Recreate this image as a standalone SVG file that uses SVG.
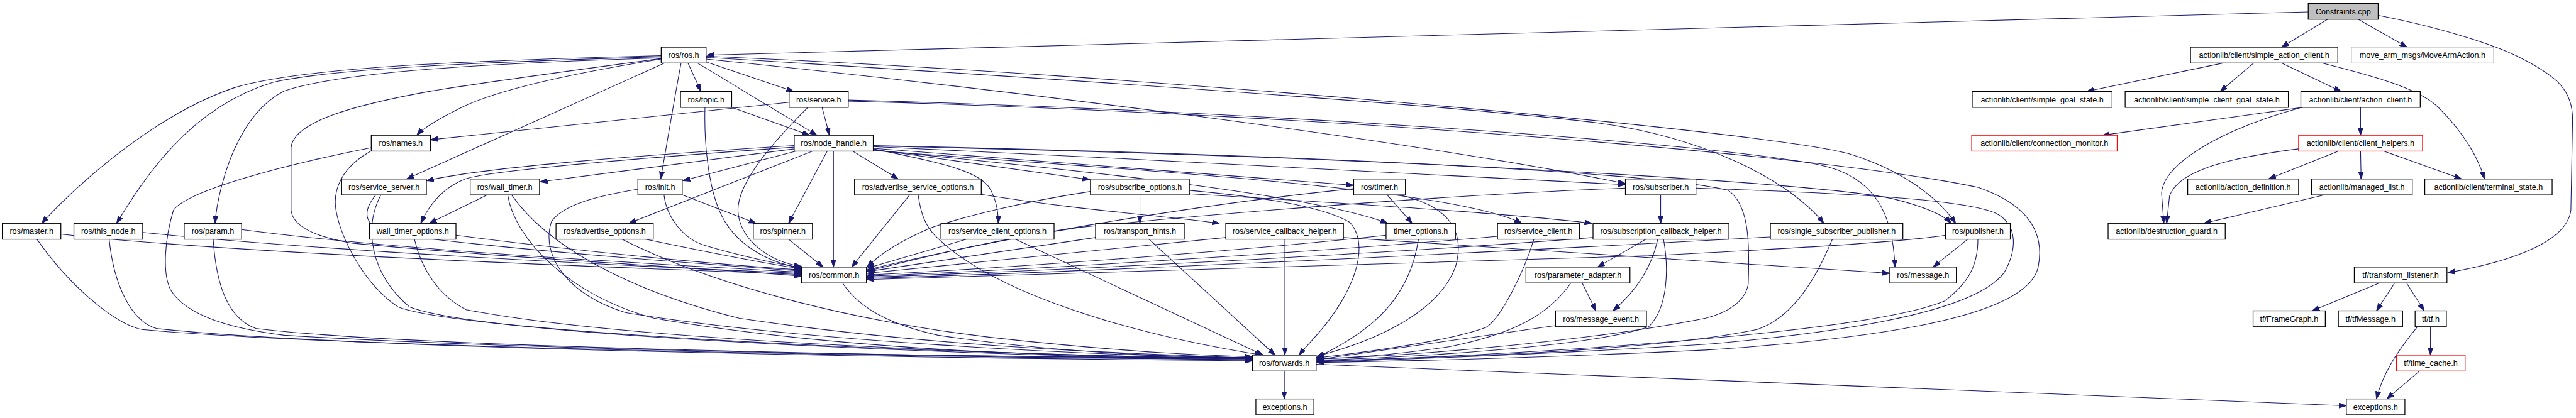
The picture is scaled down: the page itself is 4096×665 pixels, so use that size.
<svg xmlns="http://www.w3.org/2000/svg" width="4096" height="665" viewBox="0 0 4096 665">
<defs>
<style>
.n rect{fill:#fff;stroke:#000;stroke-width:1.4}
.n text{font-family:"Liberation Sans",Arial,sans-serif;font-size:14px;text-anchor:middle;fill:#000}
.n.red rect{stroke:#ff0000}
.n.grey rect{stroke:#bfbfbf}
.n.root rect{fill:#bfbfbf}
#edges path{fill:none;stroke:#191970;stroke-width:1.2;marker-end:url(#a)}
</style>
<marker id="a" viewBox="0 0 14 10" markerWidth="14" markerHeight="10" refX="13" refY="5" orient="auto" markerUnits="userSpaceOnUse">
<path d="M0,0.5 L13,5 L0,9.5 z" fill="#191970" stroke="#191970" stroke-width="1"/>
</marker>
</defs>
<rect width="4096" height="665" fill="#fff"/>
<g transform="scale(0.904)">
<g id="edges">
<path d="M4060,21 L1243,97"/>
<path d="M4094,34 L4013,83"/>
<path d="M4148,34 L4234,83"/>
<path d="M4183,27 C4300,50 4390,80 4430,100 C4500,135 4525,160 4525,210 L4522,370 C4515,425 4420,460 4305,480"/>
<path d="M3910,111 L3670,161"/>
<path d="M3964,111 L3905,161"/>
<path d="M4013,111 L4118,161"/>
<path d="M4084,111 C4200,140 4260,160 4290,190 C4335,235 4360,280 4370,315"/>
<path d="M4152,189 L4152,238"/>
<path d="M4050,189 L3698,238"/>
<path d="M4045,190 C3900,230 3805,290 3802,340 L3806,393"/>
<path d="M4113,266 L3990,315"/>
<path d="M4152,266 L4153,315"/>
<path d="M4193,266 L4330,315"/>
<path d="M4043,262 C3900,280 3830,305 3816,345 L3811,393"/>
<path d="M4089,343 L3876,393"/>
<path d="M4185,498 L4067,547"/>
<path d="M4212,498 L4180,547"/>
<path d="M4233,498 L4264,547"/>
<path d="M4275,575 L4275,625"/>
<path d="M4252,575 C4215,620 4190,660 4180,702"/>
<path d="M4257,652 L4198,702"/>
<path d="M2259,652 L2259,702"/>
<path d="M2315,641 C3000,670 3700,700 4127,714"/>
<path d="M1163,98 C800,107 520,120 410,155 C280,200 150,310 73,393"/>
<path d="M1163,100 C800,110 560,125 480,145 C330,190 250,320 205,393"/>
<path d="M1163,102 C800,113 590,130 500,160 C420,200 385,320 378,393"/>
<path d="M1163,104 C1000,130 870,160 810,190 C770,210 745,225 733,238"/>
<path d="M1163,103 C1000,125 850,145 760,160 C620,185 515,215 512,260 L512,370 C515,400 560,418 620,428 C900,455 1250,472 1410,486"/>
<path d="M1169,111 L715,315"/>
<path d="M1210,111 L1233,161"/>
<path d="M1242,109 L1396,161"/>
<path d="M1227,111 L1437,238"/>
<path d="M1198,111 C1185,180 1172,260 1162,315"/>
<path d="M1242,104 C1700,150 2450,240 2859,323"/>
<path d="M1242,101 C1800,135 2500,180 2800,215 C3000,240 3150,320 3208,393"/>
<path d="M1242,99 C2000,130 3100,230 3250,270 C3350,300 3410,350 3440,393"/>
<path d="M1397,256 C1100,275 850,295 750,318"/>
<path d="M1397,262 L950,320"/>
<path d="M1400,266 L1201,318"/>
<path d="M1397,259 C1100,280 860,300 818,315 C780,330 755,360 740,393"/>
<path d="M1429,266 L1106,393"/>
<path d="M1455,266 L1387,393"/>
<path d="M1466,266 L1466,470"/>
<path d="M1500,266 L1580,315"/>
<path d="M1536,262 C1650,285 1720,300 1740,330 C1752,350 1756,370 1756,393"/>
<path d="M1536,263 L1917,316"/>
<path d="M1536,261 L2381,326"/>
<path d="M1536,264 C1900,300 2300,340 2441,393"/>
<path d="M1536,265 C2000,300 2550,330 2677,393"/>
<path d="M1536,258 C2000,280 2600,310 2859,325"/>
<path d="M1536,257 C2400,275 3200,320 3330,350 C3390,365 3420,380 3432,393"/>
<path d="M1536,256 C2200,270 2900,300 3040,335 C3075,360 3078,420 3075,500 C3070,530 3040,550 3000,560 C2800,600 2500,625 2316,632"/>
<path d="M1287,189 L1424,238"/>
<path d="M1240,189 C1238,260 1248,330 1265,370 C1290,430 1350,462 1410,472"/>
<path d="M1388,180 L757,246"/>
<path d="M1446,189 L1459,238"/>
<path d="M1421,189 C1360,250 1298,320 1298,370 C1300,420 1350,460 1410,469"/>
<path d="M1492,176 C2200,195 3000,250 3200,290 C3300,310 3330,380 3333,470"/>
<path d="M1492,178 C2300,200 3200,270 3480,330 C3580,365 3595,420 3585,470 C3570,540 3400,590 3000,616 C2700,630 2450,636 2316,638"/>
<path d="M653,260 C500,290 330,335 305,370 C290,420 285,480 300,510 C330,560 420,580 500,590 C900,615 1700,630 2203,629"/>
<path d="M652,266 C600,295 585,335 591,370 C600,420 640,500 700,540 C800,580 1500,620 2203,631"/>
<path d="M661,343 C635,375 640,400 690,412 C900,440 1200,462 1410,477"/>
<path d="M670,343 C640,400 650,480 720,540 C850,590 1600,622 2203,634"/>
<path d="M857,343 L755,393"/>
<path d="M893,343 C905,420 1000,520 1150,560 C1500,620 1900,628 2203,632"/>
<path d="M900,343 C960,430 1100,510 1300,560 C1600,605 1900,620 2203,630"/>
<path d="M1200,343 L1330,393"/>
<path d="M1168,343 C1172,380 1200,420 1240,432 C1300,450 1370,465 1410,471"/>
<path d="M1122,333 C1050,345 990,360 970,390 C950,450 1000,520 1100,550 C1400,600 1900,625 2203,630"/>
<path d="M802,414 C1000,440 1250,465 1410,475"/>
<path d="M729,421 C740,470 770,520 820,545 C1100,600 1800,626 2203,631"/>
<path d="M1135,421 C1250,445 1350,465 1410,473"/>
<path d="M1094,421 C1250,500 1500,570 1800,600 C2000,620 2100,625 2203,628"/>
<path d="M1387,421 L1448,470"/>
<path d="M107,412 C400,445 1000,468 1410,483"/>
<path d="M251,409 C550,440 1050,466 1410,481"/>
<path d="M425,404 C700,440 1100,462 1410,479"/>
<path d="M65,421 C120,500 200,570 250,580 C600,612 1600,628 2203,633"/>
<path d="M192,421 C200,500 230,565 275,578 C600,614 1600,630 2203,635"/>
<path d="M375,421 C380,500 400,560 450,578 C700,610 1600,628 2203,631"/>
<path d="M1600,343 L1498,470"/>
<path d="M1615,343 C1620,380 1630,400 1645,415 C1750,520 2000,590 2220,625"/>
<path d="M1726,342 C1900,370 2050,380 2145,393"/>
<path d="M1700,421 L1525,472"/>
<path d="M1786,421 L2222,625"/>
<path d="M1918,337 C1800,355 1700,380 1640,400 C1580,425 1545,450 1525,470"/>
<path d="M2005,343 L2005,393"/>
<path d="M2092,335 C2200,345 2320,360 2374,391 C2400,420 2395,470 2360,530 C2330,580 2300,605 2285,625"/>
<path d="M2092,341 C2400,360 2650,375 2800,393"/>
<path d="M1927,418 L1525,478"/>
<path d="M2021,421 L2243,625"/>
<path d="M2156,418 L1525,481"/>
<path d="M2260,421 L2260,625"/>
<path d="M2363,418 C2700,440 3000,460 3324,481"/>
<path d="M2440,343 L2484,393"/>
<path d="M2381,332 C2100,360 1750,420 1525,475"/>
<path d="M2460,343 C2540,360 2580,400 2560,470 C2530,550 2420,600 2316,627"/>
<path d="M2438,414 C2200,440 1800,470 1525,484"/>
<path d="M2495,421 C2480,520 2420,580 2316,629"/>
<path d="M2634,416 C2300,445 1800,475 1525,486"/>
<path d="M2698,421 C2680,480 2640,560 2614,576 C2550,600 2400,620 2316,630"/>
<path d="M2802,418 C2400,450 1800,478 1525,488"/>
<path d="M2895,421 L2810,470"/>
<path d="M2916,421 C2905,470 2880,510 2837,547"/>
<path d="M2926,421 C2935,470 2935,540 2900,575 C2800,610 2500,628 2316,634"/>
<path d="M2921,343 L2921,393"/>
<path d="M2859,331 C2500,345 2100,380 1900,400 C1700,430 1600,460 1525,477"/>
<path d="M2983,331 C3250,340 3450,350 3510,375 C3550,395 3548,440 3525,480 C3480,540 3300,580 3000,606 C2700,625 2450,633 2316,637"/>
<path d="M2783,498 L2807,547"/>
<path d="M2763,498 C2720,560 2650,590 2550,610 C2450,625 2380,630 2316,631"/>
<path d="M2736,573 L2316,633"/>
<path d="M3114,417 C2700,440 2000,475 1525,490"/>
<path d="M3223,421 C3190,500 3150,560 3090,580 C2900,620 2500,630 2316,635"/>
<path d="M3422,414 C3330,428 3100,440 2900,450 C2400,465 1900,480 1525,492"/>
<path d="M3461,421 L3400,470"/>
<path d="M3479,421 C3479,470 3460,500 3420,530 C3300,580 2800,620 2316,636"/>
<path d="M1482,498 C1510,540 1560,570 1650,590 C1850,620 2050,628 2203,630"/>
</g>
<g id="n_constraints" class="n root"><rect x="4060" y="6" width="123" height="28"/><text x="4121.5" y="25">Constraints.cpp</text></g>
<g id="n_ros" class="n"><rect x="1163" y="83" width="79" height="28"/><text x="1202.5" y="102">ros/ros.h</text></g>
<g id="n_sac" class="n"><rect x="3853" y="83" width="259" height="28"/><text x="3982.5" y="102">actionlib/client/simple_action_client.h</text></g>
<g id="n_movearm" class="n grey"><rect x="4136" y="83" width="250" height="28"/><text x="4261" y="102">move_arm_msgs/MoveArmAction.h</text></g>
<g id="n_topic" class="n"><rect x="1197" y="161" width="90" height="28"/><text x="1242" y="180">ros/topic.h</text></g>
<g id="n_service" class="n"><rect x="1388" y="161" width="104" height="28"/><text x="1440" y="180">ros/service.h</text></g>
<g id="n_sgs" class="n"><rect x="3469" y="161" width="246" height="28"/><text x="3592" y="180">actionlib/client/simple_goal_state.h</text></g>
<g id="n_scgs" class="n"><rect x="3738" y="161" width="287" height="28"/><text x="3881.5" y="180">actionlib/client/simple_client_goal_state.h</text></g>
<g id="n_ac" class="n"><rect x="4047" y="161" width="210" height="28"/><text x="4152" y="180">actionlib/client/action_client.h</text></g>
<g id="n_names" class="n"><rect x="653" y="238" width="104" height="28"/><text x="705" y="257">ros/names.h</text></g>
<g id="n_nh" class="n"><rect x="1397" y="238" width="139" height="28"/><text x="1466.5" y="257">ros/node_handle.h</text></g>
<g id="n_cm" class="n red"><rect x="3468" y="238" width="256" height="28"/><text x="3596" y="257">actionlib/client/connection_monitor.h</text></g>
<g id="n_ch" class="n red"><rect x="4043" y="238" width="218" height="28"/><text x="4152" y="257">actionlib/client/client_helpers.h</text></g>
<g id="n_ss" class="n"><rect x="601" y="315" width="149" height="28"/><text x="675.5" y="334">ros/service_server.h</text></g>
<g id="n_wt" class="n"><rect x="827" y="315" width="122" height="28"/><text x="888" y="334">ros/wall_timer.h</text></g>
<g id="n_init" class="n"><rect x="1122" y="315" width="78" height="28"/><text x="1161" y="334">ros/init.h</text></g>
<g id="n_aso" class="n"><rect x="1503" y="315" width="223" height="28"/><text x="1614.5" y="334">ros/advertise_service_options.h</text></g>
<g id="n_so" class="n"><rect x="1918" y="315" width="174" height="28"/><text x="2005" y="334">ros/subscribe_options.h</text></g>
<g id="n_timer" class="n"><rect x="2381" y="315" width="91" height="28"/><text x="2426.5" y="334">ros/timer.h</text></g>
<g id="n_sub" class="n"><rect x="2859" y="315" width="124" height="28"/><text x="2921" y="334">ros/subscriber.h</text></g>
<g id="n_ad" class="n"><rect x="3848" y="315" width="195" height="28"/><text x="3945.5" y="334">actionlib/action_definition.h</text></g>
<g id="n_ml" class="n"><rect x="4066" y="315" width="177" height="28"/><text x="4154.5" y="334">actionlib/managed_list.h</text></g>
<g id="n_ts" class="n"><rect x="4265" y="315" width="224" height="28"/><text x="4377" y="334">actionlib/client/terminal_state.h</text></g>
<g id="n_master" class="n"><rect x="4" y="393" width="103" height="28"/><text x="55.5" y="412">ros/master.h</text></g>
<g id="n_thisnode" class="n"><rect x="130" y="393" width="121" height="28"/><text x="190.5" y="412">ros/this_node.h</text></g>
<g id="n_param" class="n"><rect x="324" y="393" width="101" height="28"/><text x="374.5" y="412">ros/param.h</text></g>
<g id="n_wto" class="n"><rect x="650" y="393" width="152" height="28"/><text x="726" y="412">wall_timer_options.h</text></g>
<g id="n_ao" class="n"><rect x="978" y="393" width="171" height="28"/><text x="1063.5" y="412">ros/advertise_options.h</text></g>
<g id="n_spinner" class="n"><rect x="1325" y="393" width="104" height="28"/><text x="1377" y="412">ros/spinner.h</text></g>
<g id="n_sco" class="n"><rect x="1655" y="393" width="199" height="28"/><text x="1754.5" y="412">ros/service_client_options.h</text></g>
<g id="n_th" class="n"><rect x="1927" y="393" width="156" height="28"/><text x="2005" y="412">ros/transport_hints.h</text></g>
<g id="n_sch" class="n"><rect x="2156" y="393" width="207" height="28"/><text x="2259.5" y="412">ros/service_callback_helper.h</text></g>
<g id="n_to" class="n"><rect x="2438" y="393" width="122" height="28"/><text x="2499" y="412">timer_options.h</text></g>
<g id="n_sc" class="n"><rect x="2634" y="393" width="144" height="28"/><text x="2706" y="412">ros/service_client.h</text></g>
<g id="n_subch" class="n"><rect x="2802" y="393" width="239" height="28"/><text x="2921.5" y="412">ros/subscription_callback_helper.h</text></g>
<g id="n_ssp" class="n"><rect x="3114" y="393" width="233" height="28"/><text x="3230.5" y="412">ros/single_subscriber_publisher.h</text></g>
<g id="n_pub" class="n"><rect x="3422" y="393" width="114" height="28"/><text x="3479" y="412">ros/publisher.h</text></g>
<g id="n_dg" class="n"><rect x="3708" y="393" width="206" height="28"/><text x="3811" y="412">actionlib/destruction_guard.h</text></g>
<g id="n_common" class="n"><rect x="1410" y="470" width="114" height="28"/><text x="1467" y="489">ros/common.h</text></g>
<g id="n_pa" class="n"><rect x="2684" y="470" width="183" height="28"/><text x="2775.5" y="489">ros/parameter_adapter.h</text></g>
<g id="n_msg" class="n"><rect x="3324" y="470" width="117" height="28"/><text x="3382.5" y="489">ros/message.h</text></g>
<g id="n_tl" class="n"><rect x="4141" y="470" width="163" height="28"/><text x="4222.5" y="489">tf/transform_listener.h</text></g>
<g id="n_me" class="n"><rect x="2736" y="547" width="160" height="28"/><text x="2816" y="566">ros/message_event.h</text></g>
<g id="n_fg" class="n"><rect x="3963" y="547" width="127" height="28"/><text x="4026.5" y="566">tf/FrameGraph.h</text></g>
<g id="n_tfm" class="n"><rect x="4113" y="547" width="113" height="28"/><text x="4169.5" y="566">tf/tfMessage.h</text></g>
<g id="n_tf" class="n"><rect x="4248" y="547" width="55" height="28"/><text x="4275.5" y="566">tf/tf.h</text></g>
<g id="n_fwd" class="n"><rect x="2203" y="625" width="112" height="28"/><text x="2259" y="644">ros/forwards.h</text></g>
<g id="n_tc" class="n red"><rect x="4215" y="625" width="121" height="28"/><text x="4275.5" y="644">tf/time_cache.h</text></g>
<g id="n_exc1" class="n"><rect x="2209" y="702" width="102" height="28"/><text x="2260" y="721">exceptions.h</text></g>
<g id="n_exc2" class="n"><rect x="4127" y="702" width="103" height="28"/><text x="4178.5" y="721">exceptions.h</text></g>
</g>
</svg>
